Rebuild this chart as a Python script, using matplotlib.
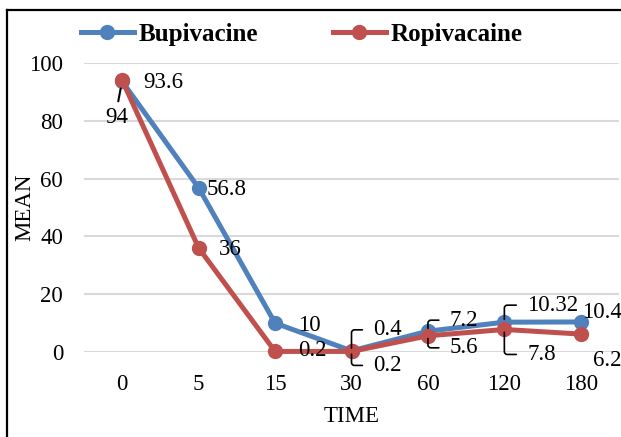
import matplotlib
matplotlib.use("Agg")
import matplotlib.pyplot as plt
from matplotlib.lines import Line2D

plt.rcParams['font.family'] = ['Liberation Serif', 'DejaVu Serif']

categories = ["0", "5", "15", "30", "60", "120", "180"]
bupivacine = [93.6, 56.8, 10, 0.4, 7.2, 10.32, 10.4]
ropivacaine = [94, 36, 0.2, 0.2, 5.6, 7.8, 6.2]
bup_labels = ["93.6", "56.8", "10", "0.4", "7.2", "10.32", "10.4"]
rop_labels = ["94", "36", "0.2", "0.2", "5.6", "7.8", "6.2"]

BLUE = "#4F81BD"
RED = "#C0504D"

fig = plt.figure(figsize=(6.21, 4.37), dpi=100)
ax = fig.add_axes([84/621, 1-352/437, (619-84)/621, (352-63)/437])

x = list(range(len(categories)))
ax.plot(x, bupivacine, color=BLUE, lw=3.6, marker='o', ms=10, clip_on=False, zorder=4, solid_capstyle='round')
ax.plot(x, ropivacaine, color=RED, lw=3.6, marker='o', ms=10, clip_on=False, zorder=5, solid_capstyle='round')

ax.set_xlim(-0.5, len(categories)-0.5)
ax.set_ylim(0, 100)
ax.set_yticks([0, 20, 40, 60, 80, 100])
ax.set_xticks(x)
ax.set_xticklabels(categories)
ax.yaxis.grid(True, color="#D9D9D9", lw=1.5)
ax.set_axisbelow(True)
for s in ax.spines.values():
    s.set_visible(False)
ax.tick_params(axis='both', length=0, labelsize=16.5)
ax.tick_params(axis='y', pad=15)
ax.tick_params(axis='x', pad=16)
ax.set_ylabel("MEAN", fontsize=16.5)
ax.yaxis.set_label_coords(-0.091, 0.5)
ax.set_xlabel("TIME", fontsize=16.5, labelpad=8)

# data labels: (dx, dy) offsets in pixels (y up), leader type
bup_offsets = [(21, -1, None), (8, -2, None), (23, -2, None), (22, 21, 'b'), (22, 11, 'b'), (23, 17, 'b'), (1, 9, None)]
rop_offsets = [(-5, -37, 's'), (20, -2, None), (23, 1, None), (22, -14, 'b'), (22, -12, 'b'), (23, -25, 'b'), (12, -26, None)]

def label(vals, labs, offs):
    for i, (v, t, (dx, dy, kind)) in enumerate(zip(vals, labs, offs)):
        if kind is None:
            ax.annotate(t, (i, v), xytext=(dx, dy), textcoords='offset pixels',
                        ha='left', va='center', fontsize=16.5, zorder=6, annotation_clip=False)
        elif kind == 'b':
            ax.annotate(t, (i, v), xytext=(dx, dy), textcoords='offset pixels',
                        ha='left', va='center', fontsize=16.5, zorder=6, annotation_clip=False,
                        arrowprops=dict(arrowstyle='-', color='black', lw=1.2,
                                        connectionstyle='angle,angleA=0,angleB=90,rad=3',
                                        relpos=(0, 0.5), shrinkA=6, shrinkB=2))
        else:
            ax.annotate(t, (i, v), xytext=(dx, dy), textcoords='offset pixels',
                        ha='center', va='center', fontsize=16.5, zorder=6, annotation_clip=False,
                        arrowprops=dict(arrowstyle='-', color='black', lw=1.5,
                                        relpos=(0.5, 1.0), shrinkA=2, shrinkB=6))

label(bupivacine, bup_labels, bup_offsets)
label(ropivacaine, rop_labels, rop_offsets)

handles = [Line2D([], [], color=BLUE, lw=3.6, marker='o', ms=10),
           Line2D([], [], color=RED, lw=3.6, marker='o', ms=10)]
fig.legend(handles, ["Bupivacine", "Ropivacaine"], loc='center', bbox_to_anchor=(0.486, 1-34/437),
           ncol=2, frameon=False, prop=dict(weight='bold', size=18), handlelength=2.1,
           columnspacing=3.0, handletextpad=0.2)

# outer border (top and left edges visible)
top_y = 1 - 10/437
left_x = 7/621
fig.add_artist(Line2D([left_x, 1.0], [top_y, top_y], transform=fig.transFigure, color='black', lw=1.6))
fig.add_artist(Line2D([left_x, left_x], [0.0, top_y], transform=fig.transFigure, color='black', lw=1.6))

fig.savefig("out.png", dpi=100)
